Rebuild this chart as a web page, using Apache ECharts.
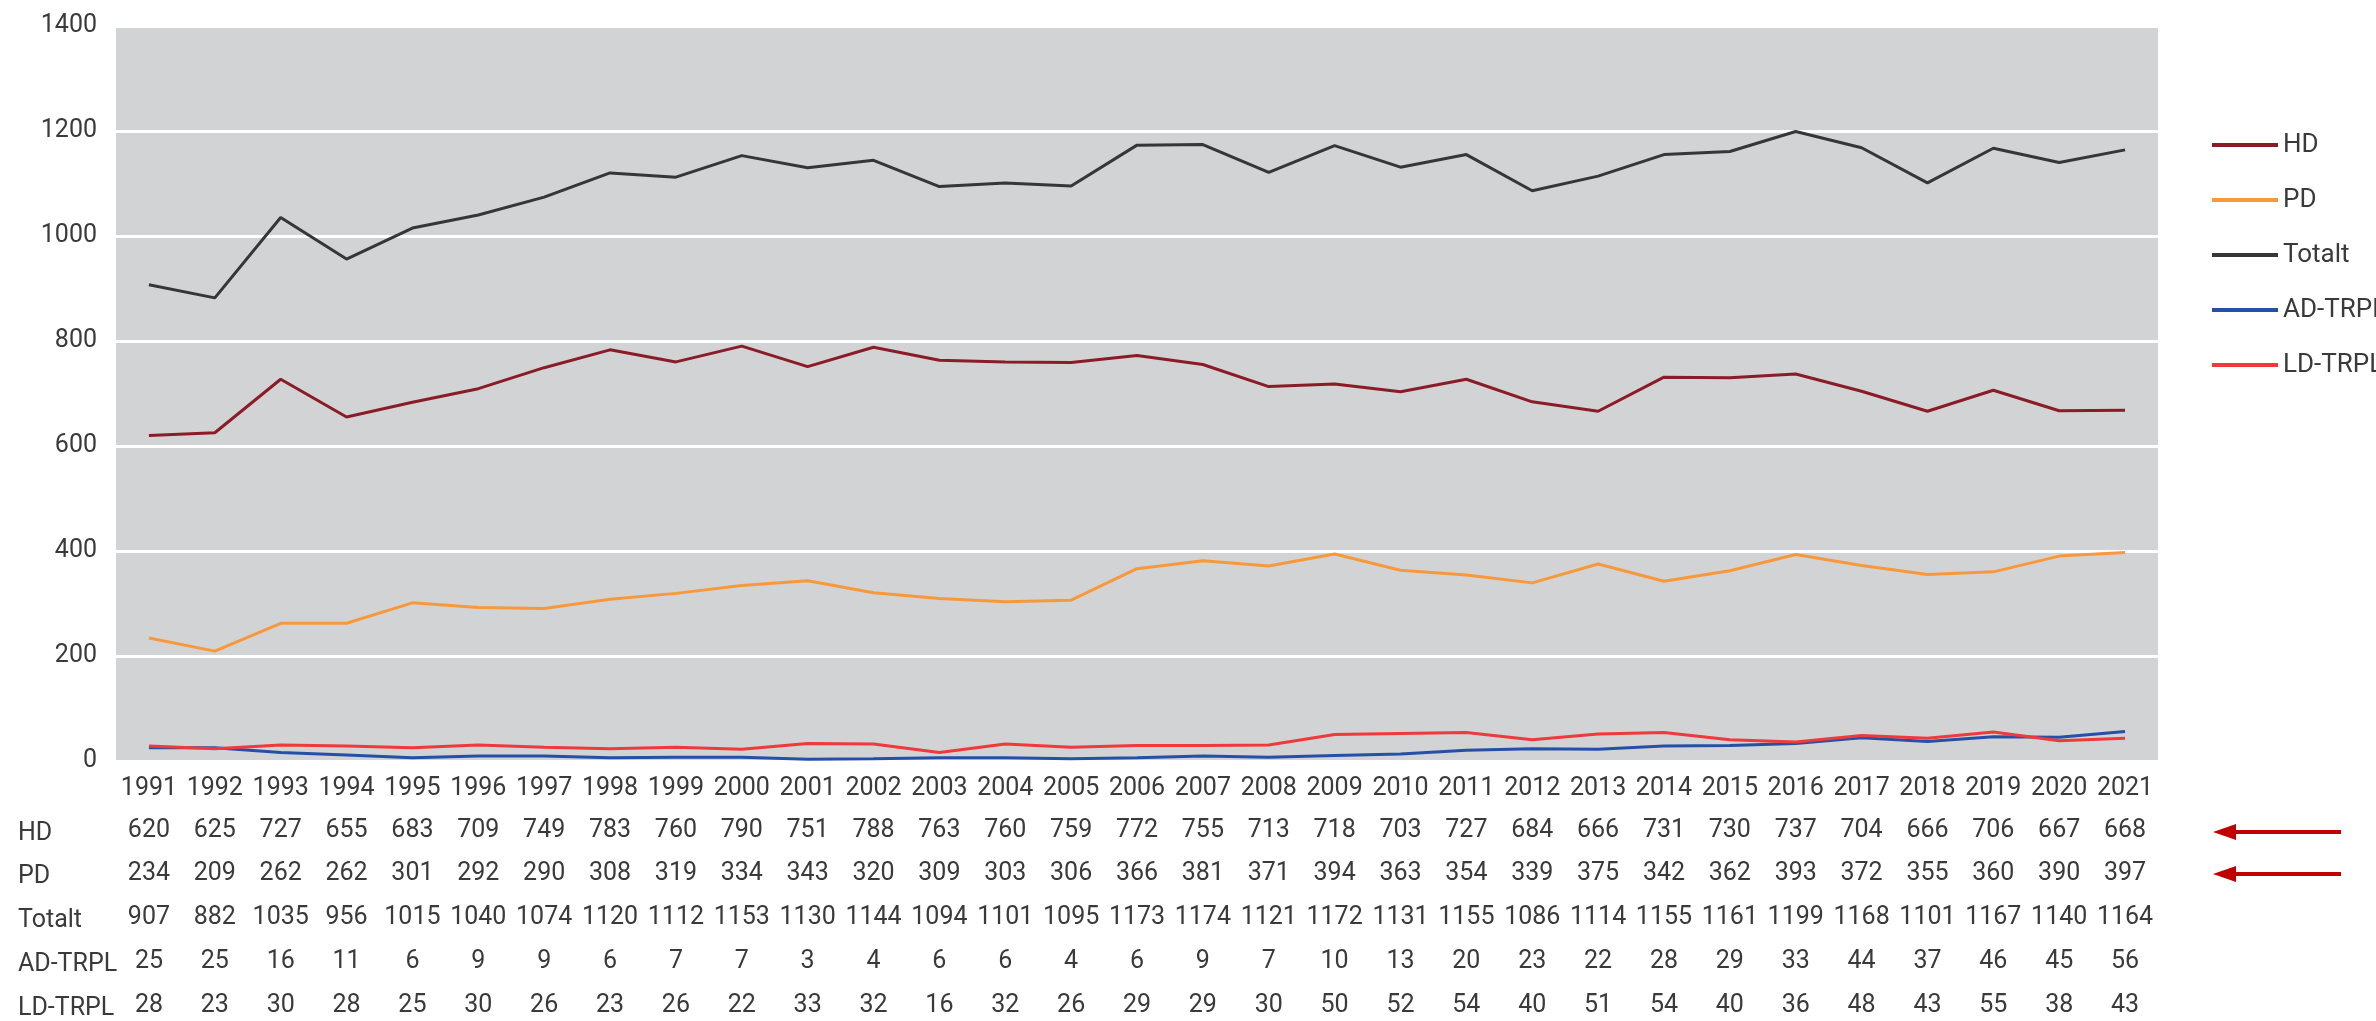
<!DOCTYPE html>
<html>
<head>
<meta charset="utf-8">
<script src="https://cdn.jsdelivr.net/npm/echarts@6/dist/echarts.min.js"></script>
<style>
  html, body { margin: 0; padding: 0; background: #fff; }
  #chart { width: 2376px; height: 1021px; }
</style>
</head>
<body>
<div id="chart"></div>
<script>
const years = ['1991', '1992', '1993', '1994', '1995', '1996', '1997', '1998', '1999', '2000',
  '2001', '2002', '2003', '2004', '2005', '2006', '2007', '2008', '2009', '2010',
  '2011', '2012', '2013', '2014', '2015', '2016', '2017', '2018', '2019', '2020', '2021']
const hd = [620, 625, 727, 655, 683, 709, 749, 783, 760, 790, 751, 788, 763, 760, 759, 772,
  755, 713, 718, 703, 727, 684, 666, 731, 730, 737, 704, 666, 706, 667, 668]
const pd = [234, 209, 262, 262, 301, 292, 290, 308, 319, 334, 343, 320, 309, 303, 306, 366,
  381, 371, 394, 363, 354, 339, 375, 342, 362, 393, 372, 355, 360, 390, 397]
const totalt = [907, 882, 1035, 956, 1015, 1040, 1074, 1120, 1112, 1153, 1130, 1144, 1094, 1101, 1095, 1173,
  1174, 1121, 1172, 1131, 1155, 1086, 1114, 1155, 1161, 1199, 1168, 1101, 1167, 1140, 1164]
const adTrpl = [25, 25, 16, 11, 6, 9, 9, 6, 7, 7, 3, 4, 6, 6, 4, 6,
  9, 7, 10, 13, 20, 23, 22, 28, 29, 33, 44, 37, 46, 45, 56]
const ldTrpl = [28, 23, 30, 28, 25, 30, 26, 23, 26, 22, 33, 32, 16, 32, 26, 29,
  29, 30, 50, 52, 54, 40, 51, 54, 40, 36, 48, 43, 55, 38, 43]
const yTicks = { min: 0, max: 1400, interval: 200 }

const textColor = '#3a3a3a'
const font = 'Roboto'

const rows = [
  { name: 'HD', values: hd, color: '#8a1c28' },
  { name: 'PD', values: pd, color: '#f7993b' },
  { name: 'Totalt', values: totalt, color: '#363636' },
  { name: 'AD-TRPL', values: adTrpl, color: '#2550a8' },
  { name: 'LD-TRPL', values: ldTrpl, color: '#f0393a' },
]

// table rows under the plot, one hidden category axis each
const tableAxes = rows.map((row, i) => ({
  type: 'category',
  position: 'bottom',
  offset: 42 + i * 43.8,
  data: row.values.map(String),
  axisLine: { show: false },
  axisTick: { show: false },
  axisLabel: { interval: 0, margin: 15, color: textColor, fontSize: 25, fontFamily: font },
  name: row.name,
  nameLocation: 'start',
  nameGap: 98,
  nameTextStyle: { align: 'left', verticalAlign: 'top', padding: [18, 0, 0, 0], color: textColor, fontSize: 25, fontFamily: font },
}))

const arrow = (y) => ({
  type: 'group',
  children: [
    { type: 'line', shape: { x1: 2232, y1: y, x2: 2341, y2: y }, style: { stroke: '#c00000', lineWidth: 4 } },
    { type: 'polygon', shape: { points: [[2213, y], [2236, y - 8], [2236, y + 8]] }, style: { fill: '#c00000' } },
  ],
})

const chart = echarts.init(document.getElementById('chart'))
chart.setOption({
  animation: false,
  textStyle: { fontFamily: font, color: textColor },
  grid: {
    left: 116, right: 218, top: 26, bottom: 260,
    show: true, backgroundColor: '#d2d3d5', borderWidth: 0,
  },
  legend: {
    orient: 'vertical',
    left: 2207,
    top: 127,
    itemWidth: 66,
    itemHeight: 14,
    itemGap: 29,
    icon: 'path://M0,5 L66,5 L66,9 L0,9 Z',
    textStyle: { color: textColor, fontSize: 26, fontFamily: font },
    data: rows.map((r) => ({ name: r.name, itemStyle: { color: r.color } })),
  },
  xAxis: [
    {
      type: 'category',
      data: years,
      boundaryGap: true,
      axisLine: { show: false },
      axisTick: { show: false },
      axisLabel: { interval: 0, margin: 15, color: textColor, fontSize: 25, fontFamily: font },
    },
    ...tableAxes,
  ],
  yAxis: {
    type: 'value',
    min: yTicks.min,
    max: yTicks.max,
    interval: yTicks.interval,
    axisLine: { show: false },
    axisTick: { show: false },
    axisLabel: { margin: 19, color: textColor, fontSize: 25, fontFamily: font, formatter: (v) => String(v) },
    splitLine: { lineStyle: { color: '#ffffff', width: 3 } },
  },
  series: rows.map((r) => ({
    name: r.name,
    type: 'line',
    data: r.values,
    symbol: 'none',
    lineStyle: { color: r.color, width: 3 },
    itemStyle: { color: r.color },
  })),
  graphic: [arrow(832), arrow(874)],
})
</script>
</body>
</html>
